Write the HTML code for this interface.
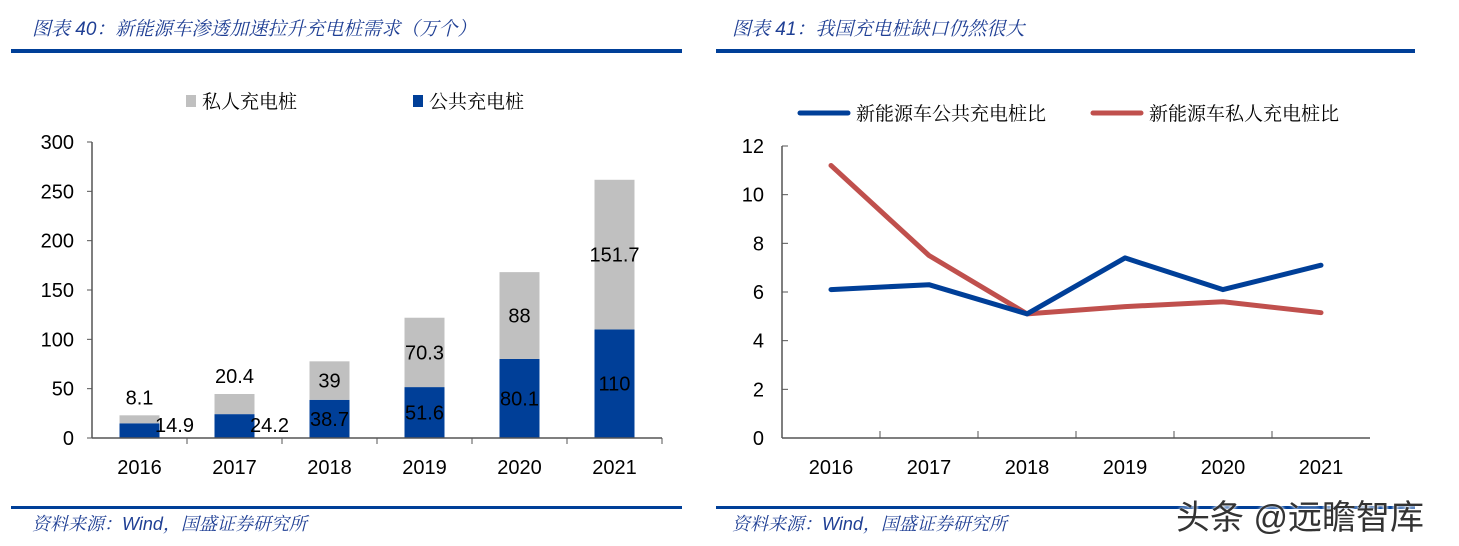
<!DOCTYPE html>
<html><head><meta charset="utf-8"><style>
body{margin:0;width:1459px;height:546px;background:#fff;overflow:hidden;position:relative;font-family:"Liberation Sans","Noto Sans CJK SC",sans-serif}
.t{position:absolute;color:#1f3f94;font-style:italic;font-size:19px;font-family:"Liberation Sans","Noto Serif CJK SC",serif;white-space:nowrap}
.rule{position:absolute;background:#003f98}
svg{position:absolute;left:0;top:0}
svg text{font-family:"Liberation Sans","Noto Sans CJK SC",sans-serif}
svg text.cj{font-family:"Liberation Serif","Noto Serif CJK SC",serif}
</style></head><body>
<div class="t" style="left:32px;top:14px">图表 40：新能源车渗透加速拉升充电桩需求（万个）</div>
<div class="t" style="left:732px;top:14px">图表 41：我国充电桩缺口仍然很大</div>
<div class="rule" style="left:11px;top:49px;width:671px;height:4px"></div>
<div class="rule" style="left:716px;top:49px;width:699px;height:4px"></div>
<div class="rule" style="left:11px;top:506px;width:671px;height:3px"></div>
<div class="rule" style="left:716px;top:506px;width:699px;height:3px"></div>
<div class="t" style="left:32px;top:510px;font-size:18px">资料来源：Wind，国盛证券研究所</div>
<div class="t" style="left:732px;top:510px;font-size:18px">资料来源：Wind，国盛证券研究所</div>
<div style="position:absolute;left:1176px;top:490px;font-size:34px;color:#333;text-shadow:0 0 3px #fff,0 0 3px #fff;font-family:'Liberation Sans','Noto Sans CJK SC',sans-serif;white-space:nowrap">头条 @远瞻智库</div>
<svg id="c" width="1459" height="546"></svg>
<script>
const barCats=["2016","2017","2018","2019","2020","2021"];
const privateVals=[8.1,20.4,39,70.3,88,151.7];
const publicVals=[14.9,24.2,38.7,51.6,80.1,110];
const barTicks=[0,50,100,150,200,250,300];
const lineCats=["2016","2017","2018","2019","2020","2021"];
const publicRatio=[6.1,6.3,5.1,7.4,6.1,7.1];
const privateRatio=[11.2,7.5,5.1,5.4,5.6,5.15];
const lineTicks=[0,2,4,6,8,10,12];

const svg=document.getElementById('c');const NS='http://www.w3.org/2000/svg';
function mk(tag,a,name,txt){const e=document.createElementNS(NS,tag);for(const k in a)e.setAttribute(k,a[k]);


if(txt!==undefined)e.textContent=txt;svg.appendChild(e);return e;}

// bar chart
const bx0=92,bx1=662,by0=438,by1=142,bmax=300;
const bw=(bx1-bx0)/barCats.length;
const yb=v=>by0-(v/bmax)*(by0-by1);
const xb=i=>bx0+bw*(i+0.5);
mk('line',{x1:bx0,y1:by1,x2:bx0,y2:by0,stroke:'#555','stroke-width':1.5},'bar-y-axis');
barTicks.forEach(t=>{mk('line',{x1:bx0-5,y1:yb(t),x2:bx0,y2:yb(t),stroke:'#555'},'bar-y-tick');
mk('text',{x:74,y:yb(t)+7,'font-size':20,'text-anchor':'end',fill:'#000'},'bar-y-label',t);});
barCats.forEach((c,i)=>{
 const h1=yb(0)-yb(publicVals[i]);const top=yb(publicVals[i]+privateVals[i]);
 mk('rect',{x:xb(i)-20,y:yb(publicVals[i]),width:40,height:h1,fill:'#003f98'},'bar-public-'+c);
 mk('rect',{x:xb(i)-20,y:top,width:40,height:yb(publicVals[i])-top,fill:'#c0c0c0'},'bar-private-'+c);
 mk('line',{x1:bx0+bw*(i+1),y1:by0,x2:bx0+bw*(i+1),y2:by0+6,stroke:'#555'},'bar-x-tick');
 mk('text',{x:xb(i),y:474,'font-size':20,'text-anchor':'middle'},'bar-x-label',c);
 let pubSmall=h1<26; let pubY=yb(publicVals[i]/2)+7, pubX=xb(i);
 if(pubSmall){pubX=xb(i)+35;pubY=by0-6;}
 mk('text',{x:pubX,y:pubY,'font-size':20,'text-anchor':'middle',fill:'#000'},'public-value-label',publicVals[i]);
 let ph=yb(publicVals[i])-top; let pY=yb(publicVals[i]+privateVals[i]/2)+7;
 if(ph<26)pY=top-11;
 mk('text',{x:xb(i),y:pY,'font-size':20,'text-anchor':'middle',fill:'#000'},'private-value-label',privateVals[i]);
});
mk('line',{x1:bx0,y1:by0,x2:bx1,y2:by0,stroke:'#555','stroke-width':1.5},'bar-x-axis');
mk('rect',{x:186,y:95,width:10,height:12,fill:'#c0c0c0'},'legend-private-swatch');
mk('text',{x:202,y:108,'font-size':19,class:'cj'},'legend-private-label','私人充电桩');
mk('rect',{x:413,y:95,width:10,height:12,fill:'#003f98'},'legend-public-swatch');
mk('text',{x:429,y:108,'font-size':19,class:'cj'},'legend-public-label','公共充电桩');

// line chart
const lx0=782,lx1=1370,ly0=438,ly1=146,lmax=12;
const lw=(lx1-lx0)/lineCats.length;
const yl=v=>ly0-(v/lmax)*(ly0-ly1);
const xl=i=>lx0+lw*(i+0.5);
mk('line',{x1:lx0,y1:ly1,x2:lx0,y2:ly0,stroke:'#555','stroke-width':1.5},'line-y-axis');
lineTicks.forEach(t=>{mk('line',{x1:lx0,y1:yl(t),x2:lx0+6,y2:yl(t),stroke:'#555'},'line-y-tick');
mk('text',{x:764,y:yl(t)+7,'font-size':20,'text-anchor':'end'},'line-y-label',t);});
lineCats.forEach((c,i)=>{
 if(i>0)mk('line',{x1:lx0+lw*i,y1:ly0,x2:lx0+lw*i,y2:ly0-7,stroke:'#555'},'line-x-tick');
 mk('text',{x:xl(i),y:474,'font-size':20,'text-anchor':'middle'},'line-x-label',c);
});
mk('line',{x1:lx0,y1:ly0,x2:lx1,y2:ly0,stroke:'#555','stroke-width':1.5},'line-x-axis');
mk('polyline',{points:privateRatio.map((v,i)=>xl(i)+','+yl(v)).join(' '),fill:'none',stroke:'#c0504d','stroke-width':5,'stroke-linejoin':'round','stroke-linecap':'round'},'series-private-ratio');
mk('polyline',{points:publicRatio.map((v,i)=>xl(i)+','+yl(v)).join(' '),fill:'none',stroke:'#003f98','stroke-width':5,'stroke-linejoin':'round','stroke-linecap':'round'},'series-public-ratio');
mk('line',{x1:800,y1:113,x2:848,y2:113,stroke:'#003f98','stroke-width':5,'stroke-linecap':'round'},'legend-public-ratio-line');
mk('text',{x:856,y:120,'font-size':19,class:'cj'},'legend-public-ratio-label','新能源车公共充电桩比');
mk('line',{x1:1093,y1:113,x2:1141,y2:113,stroke:'#c0504d','stroke-width':5,'stroke-linecap':'round'},'legend-private-ratio-line');
mk('text',{x:1149,y:120,'font-size':19,class:'cj'},'legend-private-ratio-label','新能源车私人充电桩比');
</script>
</body></html>
